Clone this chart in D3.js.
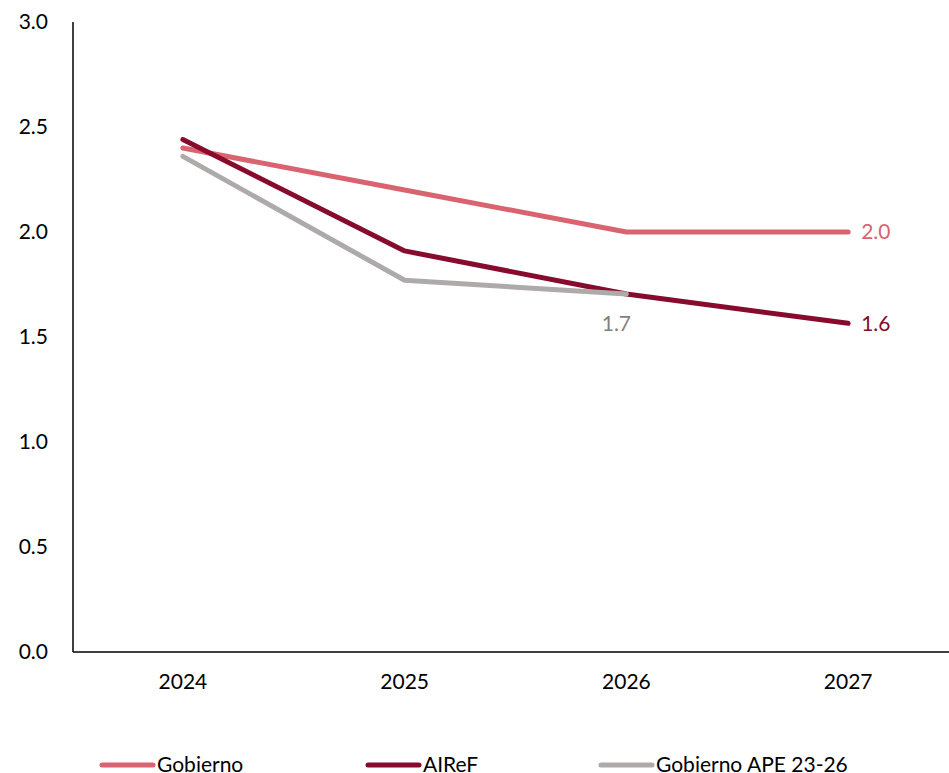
<!DOCTYPE html>
<html>
<head>
<meta charset="utf-8">
<script src="https://cdn.jsdelivr.net/npm/d3@7"></script>
<style>
    body { margin: 0; background: #fff; }
    svg text { font-family: Lato, "Open Sans", sans-serif; }
</style>
</head>
<body>
<script>
var width = 949;
var height = 773;

var years = ['2024', '2025', '2026', '2027'];
var gobierno = [2.4, 2.2, 2.0, 2.0];
var airef = [2.44, 1.91, 1.705, 1.565];
var ape = [2.36, 1.77, 1.705];
var yTicks = [0, 0.5, 1.0, 1.5, 2.0, 2.5, 3.0];
var seriesNames = ['Gobierno', 'AIReF', 'Gobierno APE 23-26'];
var colors = ['#d9636f', '#860b2c', '#aeaaaa'];

var svg = d3.select('body')
    .append('svg')
    .attr('width', width)
    .attr('height', height);

var x = d3.scaleBand().domain(years).range([72, 959]);
var y = d3.scaleLinear().domain([0, 3]).range([652, 22]);

function cx(d, i) { return x(years[i]) + x.bandwidth() / 2; }

// axes
var yAxis = d3.axisLeft(y).tickValues(yTicks).tickSize(0).tickPadding(25)
    .tickFormat(d3.format('.1f'));
svg.append('g')
    .attr('class', 'y axis')
    .attr('transform', 'translate(73,0)')
    .call(yAxis);

var xAxis = d3.axisBottom(x).tickSize(0).tickPadding(22);
svg.append('g')
    .attr('class', 'x axis')
    .attr('transform', 'translate(0,652)')
    .call(xAxis);

svg.selectAll('.axis path').attr('stroke', '#000').attr('stroke-width', 1.5);
svg.selectAll('.axis text').attr('fill', '#000').style('font-size', '21px');
svg.select('.y.axis path').attr('d', 'M0,22V652');
svg.select('.x.axis path').attr('d', 'M73,0H959');

// lines
var line = d3.line().x(cx).y(function (d) { return y(d); });
[gobierno, airef, ape].forEach(function (s, k) {
    svg.append('path')
        .datum(s)
        .attr('d', line)
        .attr('fill', 'none')
        .attr('stroke', colors[k])
        .attr('stroke-width', 5)
        .attr('stroke-linecap', 'round')
        .attr('stroke-linejoin', 'round');
});

// end labels
svg.append('text')
    .attr('x', cx(null, 3) + 13)
    .attr('y', y(gobierno[3]))
    .attr('dy', '0.35em')
    .attr('fill', colors[0])
    .style('font-size', '21px')
    .text(d3.format('.1f')(gobierno[3]));

svg.append('text')
    .attr('x', cx(null, 3) + 13)
    .attr('y', y(airef[3]))
    .attr('dy', '0.35em')
    .attr('fill', colors[1])
    .style('font-size', '21px')
    .text(d3.format('.1f')(airef[3]));

svg.append('text')
    .attr('x', cx(null, 2) - 10)
    .attr('y', y(ape[2]) + 30)
    .attr('dy', '0.35em')
    .attr('text-anchor', 'middle')
    .attr('fill', '#7f7f7f')
    .style('font-size', '21px')
    .text(d3.format('.1f')(ape[2]));

// legend
var legendX = [100, 366, 599];
var legend = svg.append('g').attr('class', 'legend');
seriesNames.forEach(function (name, k) {
    legend.append('line')
        .attr('x1', legendX[k] + 2).attr('x2', legendX[k] + 53)
        .attr('y1', 765).attr('y2', 765)
        .attr('stroke', colors[k])
        .attr('stroke-width', 5)
        .attr('stroke-linecap', 'round');
    legend.append('text')
        .attr('x', legendX[k] + 57)
        .attr('y', 765)
        .attr('dy', '0.35em')
        .style('font-size', '21px')
        .attr('fill', '#000')
        .text(name);
});
</script>
</body>
</html>
